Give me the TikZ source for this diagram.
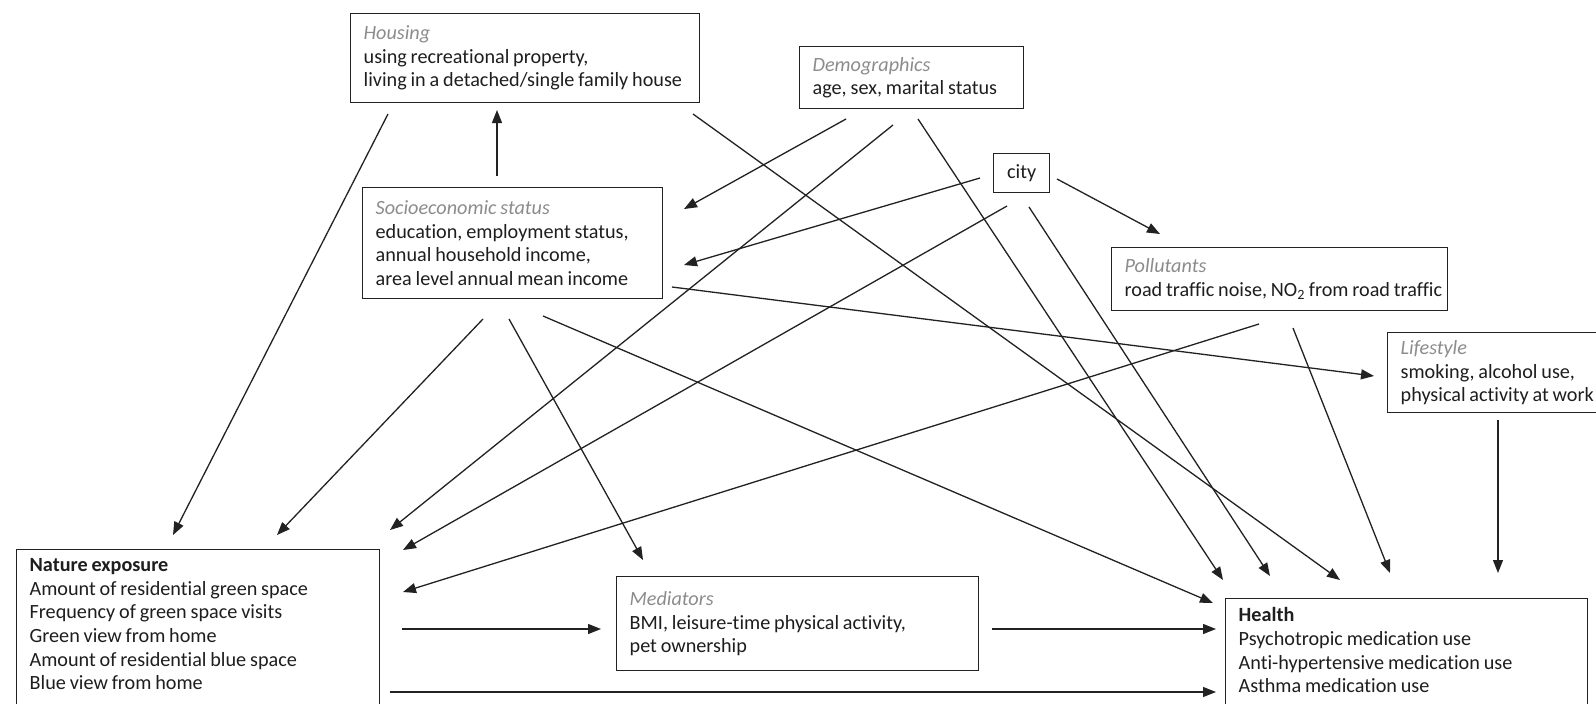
\documentclass[tikz,border=0pt]{standalone}
\usepackage{fontspec}
\setmainfont{Carlito}[Ligatures=NoCommon]
\usetikzlibrary{arrows.meta}
\definecolor{ttlgrey}{HTML}{8C8C8C}
\definecolor{txtc}{HTML}{1E1E1E}
\definecolor{linec}{HTML}{222222}
\newcommand\tightsp{\spaceskip=0.19em plus 0.1em minus 0.05em\relax}
\newcommand\bxc[3]{\parbox[c][#2pt][c]{#1pt}{\raggedright\leftskip=13pt\relax\tightsp #3}}
\newcommand\bxt[4]{\parbox[c][#2pt][t]{#1pt}{\raggedright\leftskip=13pt\relax\tightsp\vspace*{#3pt}#4}}
\newcommand\ttl[1]{{\color{ttlgrey}\itshape #1}}
\begin{document}
\begin{tikzpicture}[x=1pt,y=-1pt,
  box/.style={draw=linec, line width=1.3pt, inner sep=0pt, anchor=north west,
    font=\fontsize{20.2}{23.6}\selectfont, text=txtc},
  arr/.style={-{Triangle[length=13pt,width=10pt]}, line width=1.3pt, draw=linec}]
\useasboundingbox (0,0) rectangle (1596,704);
\fill[white] (0,0) rectangle (1596,704);

% boxes
\node[box] (housing) at (350,13) {\bxc{349}{89}{\ttl{Housing}\\using recreational property,\\\mbox{living in a detached/single family house}}};
\node[box] (demo) at (799,46) {\bxc{224}{62}{\ttl{Demographics}\\age, sex, marital status}};
\node[box] (city) at (993,153) {\parbox[c][39pt][c]{56pt}{\centering city}};
\node[box] (ses) at (362,187) {\bxc{300}{111}{\ttl{Socioeconomic status}\\education, employment status,\\annual household income,\\area level annual mean income}};
\node[box] (poll) at (1111,247) {\bxc{336}{63}{\ttl{Pollutants}\\\mbox{road traffic noise, NO\textsubscript{2} from road traffic}}};
\node[box] (life) at (1387,332) {\bxc{240}{80}{\ttl{Lifestyle}\\smoking, alcohol use,\\\mbox{physical activity at work}}};
\node[box] (nature) at (16,549) {\bxt{363}{200}{9}{\textbf{Nature exposure}\\Amount of residential green space\\Frequency of green space visits\\Green view from home\\Amount of residential blue space\\Blue view from home}};
\node[box] (med) at (616,576) {\bxc{362}{94}{\ttl{Mediators}\\BMI, leisure-time physical activity,\\pet ownership}};
\node[box] (health) at (1225,598) {\bxt{362}{200}{9}{\textbf{Health}\\Psychotropic medication use\\Anti-hypertensive medication use\\Asthma medication use}};

% connector end points
\coordinate (hou-s1) at (388,114);  \coordinate (nat-t1) at (173,535);
\coordinate (ses-t1) at (497,176);  \coordinate (hou-b1) at (497,110);
\coordinate (hou-s2) at (693,114);  \coordinate (hea-t3) at (1340,580);
\coordinate (dem-s1) at (846,119);  \coordinate (ses-r1) at (684,209);
\coordinate (dem-s2) at (893,125);  \coordinate (nat-t3) at (390,530);
\coordinate (dem-s3) at (918,119);  \coordinate (hea-t1) at (1223,580);
\coordinate (cit-w1) at (980,178);  \coordinate (ses-r2) at (684,265);
\coordinate (cit-s1) at (1007,206); \coordinate (nat-t4) at (403,550);
\coordinate (cit-s2) at (1029,207); \coordinate (hea-t2) at (1270,576);
\coordinate (cit-e1) at (1057,179); \coordinate (pol-t1) at (1160,234);
\coordinate (ses-e1) at (672,287);  \coordinate (lif-w1) at (1374,376);
\coordinate (ses-b1) at (483,319);  \coordinate (nat-t2) at (277,535);
\coordinate (ses-b2) at (509,319);  \coordinate (med-t1) at (643,560);
\coordinate (ses-b3) at (543,316);  \coordinate (hea-w1) at (1213,603);
\coordinate (pol-b1) at (1259,324); \coordinate (nat-r1) at (403,592);
\coordinate (pol-b2) at (1293,328); \coordinate (hea-t4) at (1390,573);
\coordinate (lif-b1) at (1498,420); \coordinate (hea-t5) at (1498,573);
\coordinate (nat-r2) at (402,629);  \coordinate (med-w1) at (601,629);
\coordinate (med-e1) at (992,629);  \coordinate (hea-w2) at (1216,629);
\coordinate (nat-r3) at (390,692);  \coordinate (hea-w3) at (1216,692);

% connectors
\draw[arr] (hou-s1) -- (nat-t1);
\draw[arr] (ses-t1) -- (hou-b1);
\draw[arr] (hou-s2) -- (hea-t3);
\draw[arr] (dem-s1) -- (ses-r1);
\draw[arr] (dem-s2) -- (nat-t3);
\draw[arr] (dem-s3) -- (hea-t1);
\draw[arr] (cit-w1) -- (ses-r2);
\draw[arr] (cit-s1) -- (nat-t4);
\draw[arr] (cit-s2) -- (hea-t2);
\draw[arr] (cit-e1) -- (pol-t1);
\draw[arr] (ses-e1) -- (lif-w1);
\draw[arr] (ses-b1) -- (nat-t2);
\draw[arr] (ses-b2) -- (med-t1);
\draw[arr] (ses-b3) -- (hea-w1);
\draw[arr] (pol-b1) -- (nat-r1);
\draw[arr] (pol-b2) -- (hea-t4);
\draw[arr] (lif-b1) -- (hea-t5);
\draw[arr] (nat-r2) -- (med-w1);
\draw[arr] (med-e1) -- (hea-w2);
\draw[arr] (nat-r3) -- (hea-w3);
\end{tikzpicture}
\end{document}
